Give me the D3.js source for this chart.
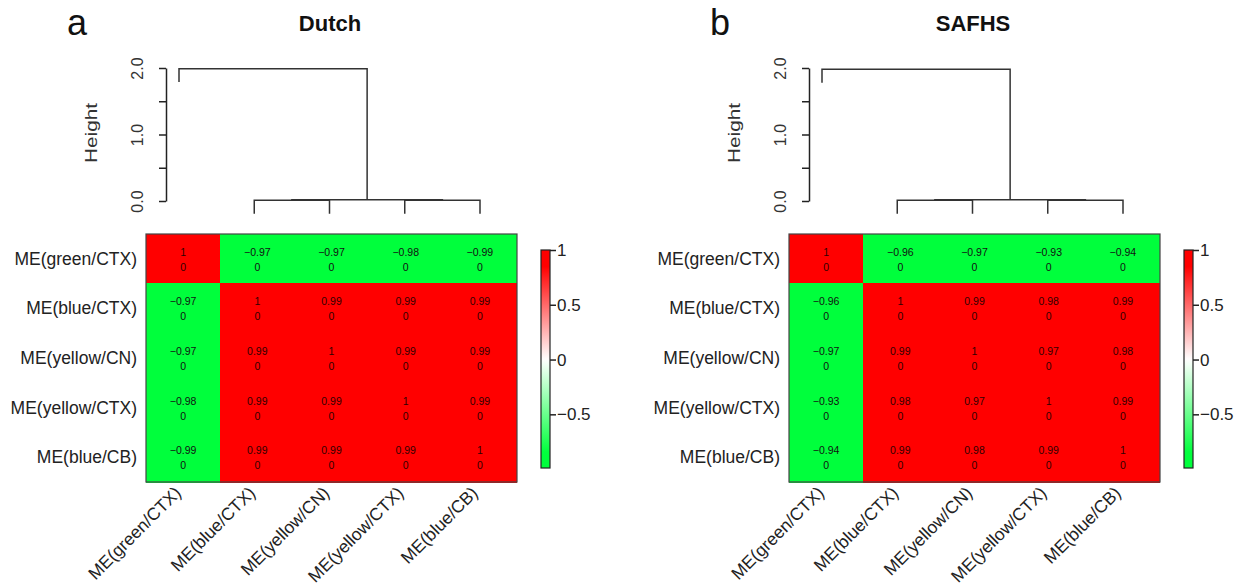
<!DOCTYPE html>
<html>
<head>
<meta charset="utf-8">
<script src="https://cdn.jsdelivr.net/npm/d3@7"></script>
<style>
  body { margin: 0; background: #fff; }
  svg { font-family: "Liberation Sans", Arial, sans-serif; }
</style>
</head>
<body>
<svg width="1244" height="588"></svg>
<script>
// module eigengenes, same order for rows, columns and dendrogram leaves
var modules = ["ME(green/CTX)", "ME(blue/CTX)", "ME(yellow/CN)", "ME(yellow/CTX)", "ME(blue/CB)"];

var dutchCor = [
  [1, -0.97, -0.97, -0.98, -0.99],
  [-0.97, 1, 0.99, 0.99, 0.99],
  [-0.97, 0.99, 1, 0.99, 0.99],
  [-0.98, 0.99, 0.99, 1, 0.99],
  [-0.99, 0.99, 0.99, 0.99, 1]
];
var safhsCor = [
  [1, -0.96, -0.97, -0.93, -0.94],
  [-0.96, 1, 0.99, 0.98, 0.99],
  [-0.97, 0.99, 1, 0.97, 0.98],
  [-0.93, 0.98, 0.97, 1, 0.99],
  [-0.94, 0.99, 0.98, 0.99, 1]
];
// p-values shown under each correlation
var dutchP = [[0,0,0,0,0],[0,0,0,0,0],[0,0,0,0,0],[0,0,0,0,0],[0,0,0,0,0]];
var safhsP = [[0,0,0,0,0],[0,0,0,0,0],[0,0,0,0,0],[0,0,0,0,0],[0,0,0,0,0]];

// dendrogram merges (hclust style: negative = leaf index+1, positive = earlier merge)
var dutchMerge = [[-2, -3], [-4, -5], [1, 2], [-1, 3]];
var dutchHeight = [0.01, 0.01, 0.02, 1.99];
var safhsMerge = [[-2, -3], [-4, -5], [1, 2], [-1, 3]];
var safhsHeight = [0.01, 0.01, 0.02, 1.98];

var heightTicks = [0, 0.5, 1, 1.5, 2];
var legendTicks = [1, 0.5, 0, -0.5];

var panels = [
  { letter: "a", title: "Dutch", cor: dutchCor, p: dutchP, merge: dutchMerge, height: dutchHeight, dx: 0 },
  { letter: "b", title: "SAFHS", cor: safhsCor, p: safhsP, merge: safhsMerge, height: safhsHeight, dx: 643 }
];

var GREEN = "#00ff3c", RED = "#ff0000";
var color = d3.scaleLinear().domain([-1, -0.85, 0, 0.85, 1])
  .range([GREEN, GREEN, "#ffffff", RED, RED]).clamp(true);

var svg = d3.select("svg");

// gradient for the colour key
var grad = svg.append("defs").append("linearGradient")
  .attr("id", "keygrad").attr("x1", 0).attr("x2", 0).attr("y1", 1).attr("y2", 0);
d3.range(0, 41).forEach(function(i) {
  var v = -0.99 + i * (1.99 / 40);
  grad.append("stop").attr("offset", (i / 40)).attr("stop-color", color(v));
});

function drawPanel(pn) {
  var g = svg.append("g").attr("transform", "translate(" + pn.dx + ",0)");

  g.append("text").attr("x", 67).attr("y", 35)
    .attr("font-size", 36).attr("fill", "#111").text(pn.letter);
  g.append("text").attr("x", 330).attr("y", 31)
    .attr("font-size", 22).attr("font-weight", "bold").attr("text-anchor", "middle")
    .attr("fill", "#111").text(pn.title);

  // ---- dendrogram ----
  var hy = d3.scaleLinear().domain([0, 2]).range([201, 68]);
  var lx = d3.scaleLinear().domain([0, modules.length - 1]).range([179, 480]);
  var hang = 0.1 * 2;

  var nodes = []; // x, h of each merge
  function info(id) {
    if (id < 0) return { x: lx(-id - 1), leaf: true };
    return nodes[id - 1];
  }
  var segs = [];
  pn.merge.forEach(function(m, k) {
    var h = pn.height[k];
    var a = info(m[0]), b = info(m[1]);
    var ya = a.leaf ? h - hang : a.h;
    var yb = b.leaf ? h - hang : b.h;
    segs.push([[a.x, hy(ya)], [a.x, hy(h)], [b.x, hy(h)], [b.x, hy(yb)]]);
    nodes.push({ x: (a.x + b.x) / 2, h: h });
  });
  g.append("g").selectAll("path").data(segs).enter().append("path")
    .attr("d", d3.line())
    .attr("fill", "none").attr("stroke", "#333").attr("stroke-width", 1.5);

  var ax = g.append("g").attr("transform", "translate(166,0)")
    .call(d3.axisLeft(hy).tickValues(heightTicks).tickSize(7).tickSizeOuter(0)
      .tickFormat(function(d) { return d % 1 === 0 ? d.toFixed(1) : ""; }));
  ax.select(".domain").attr("stroke", "#222").attr("stroke-width", 1.5);
  ax.selectAll(".tick line").attr("stroke", "#222").attr("stroke-width", 1.5);
  ax.selectAll(".tick text")
    .attr("x", null).attr("dy", null)
    .attr("transform", "translate(-23,0) rotate(-90)")
    .attr("text-anchor", "middle")
    .attr("font-size", 16).attr("fill", "#333")
    .attr("font-family", "Liberation Sans, Arial, sans-serif");

  g.append("text").attr("transform", "translate(97,133) rotate(-90)")
    .attr("text-anchor", "middle").attr("font-size", 16).attr("fill", "#333")
    .attr("textLength", 60).attr("lengthAdjust", "spacingAndGlyphs")
    .text("Height");

  // ---- heatmap ----
  var x = d3.scaleBand().domain(modules).range([146, 517]);
  var y = d3.scaleBand().domain(modules).range([234, 482]);

  var cells = [];
  pn.cor.forEach(function(row, i) {
    row.forEach(function(v, j) {
      cells.push({ r: modules[i], c: modules[j], v: v, p: pn.p[i][j] });
    });
  });

  var cg = g.append("g").selectAll("g").data(cells).enter().append("g");
  cg.append("rect")
    .attr("x", function(d) { return Math.floor(x(d.c)); })
    .attr("y", function(d) { return Math.floor(y(d.r)); })
    .attr("width", x.bandwidth() + 1)
    .attr("height", y.bandwidth() + 1)
    .attr("shape-rendering", "crispEdges")
    .attr("fill", function(d) { return color(d.v); });
  cg.append("text")
    .attr("x", function(d) { return x(d.c) + x.bandwidth() / 2; })
    .attr("y", function(d) { return y(d.r) + y.bandwidth() / 2 - 7; })
    .attr("dominant-baseline", "central").attr("text-anchor", "middle")
    .attr("font-size", 10.5)
    .attr("fill", function(d) { return d.v > 0 ? "#300000" : "#111"; })
    .text(function(d) { return String(d.v).replace("-", "\u2212"); });
  cg.append("text")
    .attr("x", function(d) { return x(d.c) + x.bandwidth() / 2; })
    .attr("y", function(d) { return y(d.r) + y.bandwidth() / 2 + 8; })
    .attr("dominant-baseline", "central").attr("text-anchor", "middle")
    .attr("font-size", 10.5)
    .attr("fill", function(d) { return d.v > 0 ? "#300000" : "#111"; })
    .text(function(d) { return d.p; });

  g.append("rect").attr("x", 146).attr("y", 234).attr("width", 371).attr("height", 248)
    .attr("fill", "none").attr("stroke", "#444").attr("stroke-width", 1.2);

  g.append("g").selectAll("text").data(modules).enter().append("text")
    .attr("x", 137)
    .attr("y", function(d) { return y(d) + y.bandwidth() / 2; })
    .attr("dominant-baseline", "central").attr("text-anchor", "end")
    .attr("font-size", 17.5).attr("fill", "#222")
    .text(function(d) { return d; });

  g.append("g").selectAll("text").data(modules).enter().append("text")
    .attr("transform", function(d) {
      return "translate(" + (x(d) + x.bandwidth() / 2 - 1) + ",494) rotate(-45)";
    })
    .attr("text-anchor", "end")
    .attr("font-size", 17.5).attr("fill", "#222")
    .text(function(d) { return d; });

  // ---- colour key ----
  var ky = d3.scaleLinear().domain([-0.99, 1]).range([468, 250]);
  g.append("rect").attr("x", 541).attr("y", 250).attr("width", 9).attr("height", 218)
    .attr("fill", "url(#keygrad)").attr("stroke", "#222").attr("stroke-width", 1.2);
  var kax = g.append("g").attr("transform", "translate(550,0)")
    .call(d3.axisRight(ky).tickValues(legendTicks).tickSize(6).tickSizeOuter(0)
      .tickFormat(d3.format("")));
  kax.select(".domain").remove();
  kax.selectAll(".tick line").attr("stroke", "#222").attr("stroke-width", 1.5);
  kax.selectAll(".tick text").attr("x", 7).attr("font-size", 17).attr("fill", "#222")
    .attr("font-family", "Liberation Sans, Arial, sans-serif");
}

panels.forEach(drawPanel);
</script>
</body>
</html>
